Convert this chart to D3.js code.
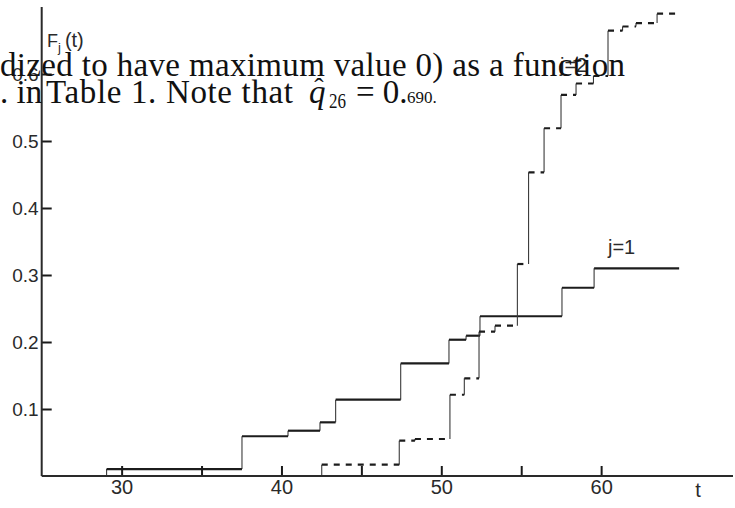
<!DOCTYPE html>
<html>
<head>
    <title></title>
    <script src="https://d3js.org/d3.v7.min.js"></script>
    <style>
        body { margin: 0; background: #fff; }
    </style>
</head>
<body>

    <svg id="chart" width="735" height="508"></svg>

    <script>

    // step estimates F_j(t)
    var j1Times  = [29.06, 37.53, 40.41, 42.41, 43.39, 47.46, 50.48, 51.55, 52.42, 57.55, 59.56];
    var j1Values = [0.0104, 0.0593, 0.0676, 0.0801, 0.1139, 0.168, 0.2034, 0.2094, 0.2384, 0.281, 0.310];
    var j1End = 64.88;

    var j2Times  = [42.52, 47.37, 48.35, 50.54, 51.44, 52.36, 53.36, 54.76, 55.46, 56.43,
                    57.49, 58.43, 59.52, 60.43, 61.34, 62.18, 63.5];
    var j2Values = [0.0169, 0.0527, 0.0552, 0.1213, 0.1458, 0.2154, 0.2243, 0.3164, 0.4533, 0.519,
                    0.5687, 0.5858, 0.597, 0.6646, 0.6709, 0.676, 0.690];
    var j2End = 64.75;

    var xTicks = [30, 35, 40, 45, 50, 55, 60];
    var xTickLabels = ["30", "", "40", "", "50", "", "60"];
    var yTicks = [0.1, 0.2, 0.3, 0.4, 0.5, 0.6];

    var xSc = d3.scaleLinear().domain([25, 68.25]).range([41.7, 733]);
    var ySc = d3.scaleLinear().domain([0, 0.7]).range([476, 7]);

    var svg = d3.select("#chart");
    var sans = "Liberation Sans, Arial, sans-serif";
    var serif = "Liberation Serif, Times New Roman, serif";

    // turn a step function into horizontal and vertical pieces
    function pieces(ts, vs, tEnd) {
        var h = [], v = [];
        ts.forEach(function (t, i) {
            var prev = i == 0 ? 0 : vs[i - 1];
            var next = i < ts.length - 1 ? ts[i + 1] : tEnd;
            v.push([t, prev, vs[i]]);
            h.push([t, next, vs[i]]);
        });
        return { h: h, v: v };
    }

    function drawSteps(p, dash) {
        var g = svg.append("g");
        g.selectAll("line.v").data(p.v).enter().append("line")
            .attr("x1", d => xSc(d[0])).attr("x2", d => xSc(d[0]))
            .attr("y1", d => ySc(d[1])).attr("y2", d => ySc(d[2]))
            .attr("stroke", "#3a3a3a").attr("stroke-width", 1.1);
        g.selectAll("line.h").data(p.h).enter().append("line")
            .attr("x1", d => xSc(d[0])).attr("x2", d => xSc(d[1]))
            .attr("y1", d => ySc(d[2])).attr("y2", d => ySc(d[2]))
            .attr("stroke", "#1c1c1c").attr("stroke-width", 2.2)
            .attr("stroke-dasharray", dash);
    }

    drawSteps(pieces(j1Times, j1Values, j1End), null);
    drawSteps(pieces(j2Times, j2Values, j2End), "6,6");

    // axes, ticks pointing inward
    var xAxis = d3.axisBottom(xSc).tickValues(xTicks).tickSize(-10).tickPadding(4)
        .tickFormat((d, i) => xTickLabels[i]);
    var gx = svg.append("g").attr("transform", "translate(0," + ySc(0) + ")").call(xAxis);
    gx.select(".domain").remove();
    gx.append("line").attr("x1", 41.7).attr("x2", 733).attr("y1", 0).attr("y2", 0)
        .attr("stroke", "#2a2a2a").attr("stroke-width", 2);
    gx.selectAll(".tick line").attr("stroke", "#1a1a1a").attr("stroke-width", 2);
    gx.selectAll(".tick text").attr("font-family", sans)
        .attr("font-size", 20).attr("fill", "#2a2a2a");

    var yAxis = d3.axisLeft(ySc).tickValues(yTicks).tickSize(-10).tickPadding(3)
        .tickFormat(d3.format(".1f"));
    var gy = svg.append("g").attr("transform", "translate(41.7,0)").call(yAxis);
    gy.select(".domain").remove();
    gy.append("line").attr("x1", 0).attr("x2", 0).attr("y1", ySc(0)).attr("y2", 7)
        .attr("stroke", "#2a2a2a").attr("stroke-width", 2);
    gy.selectAll(".tick line").attr("stroke", "#1a1a1a").attr("stroke-width", 2);
    gy.selectAll(".tick text").attr("font-family", sans)
        .attr("font-size", 19).attr("fill", "#2a2a2a");

    // axis titles and series labels
    var fl = svg.append("text").attr("x", 47).attr("y", 47)
        .attr("font-family", sans).attr("font-size", 18).attr("fill", "#2a2a2a");
    fl.append("tspan").text("F");
    fl.append("tspan").attr("dy", 5).attr("font-size", 13).text("j");
    fl.append("tspan").attr("dy", -5).attr("dx", 4).attr("font-size", 20).text("(t)");

    svg.append("text").attr("x", 698).attr("y", 497).attr("text-anchor", "middle")
        .attr("font-family", sans).attr("font-size", 20).attr("fill", "#2a2a2a").text("t");

    svg.append("text").attr("x", 608).attr("y", 254)
        .attr("font-family", sans).attr("font-size", 20).attr("fill", "#2a2a2a").text("j=1");
    svg.append("text").attr("x", 560).attr("y", 72)
        .attr("font-family", sans).attr("font-size", 20).attr("fill", "#2a2a2a").text("j=2");

    // text from the page that overlaps the figure
    svg.append("text").attr("x", 0).attr("y", 76).attr("font-family", serif)
        .attr("font-size", 33).attr("fill", "#111")
        .attr("textLength", 625).attr("lengthAdjust", "spacing")
        .text("dized to have maximum value 0) as a function");

    svg.append("text").attr("x", 0).attr("y", 103).attr("font-family", serif)
        .attr("font-size", 33).attr("fill", "#111").text(". in");
    svg.append("text").attr("x", 46).attr("y", 103).attr("font-family", serif)
        .attr("font-size", 33).attr("fill", "#111")
        .attr("textLength", 247).attr("lengthAdjust", "spacing")
        .text("Table 1. Note that");
    svg.append("text").attr("x", 309).attr("y", 103).attr("font-family", serif)
        .attr("font-style", "italic").attr("font-size", 33).attr("fill", "#111").text("q");
    svg.append("text").attr("x", 319).attr("y", 97).attr("text-anchor", "middle")
        .attr("font-family", serif).attr("font-size", 28).attr("fill", "#111").text("\u02C6");
    svg.append("text").attr("x", 329).attr("y", 108).attr("font-family", serif)
        .attr("font-size", 21).attr("fill", "#111")
        .attr("textLength", 17).attr("lengthAdjust", "spacingAndGlyphs").text("26");
    svg.append("text").attr("x", 356).attr("y", 103).attr("font-family", serif)
        .attr("font-size", 33).attr("fill", "#111").text("= 0.");
    svg.append("text").attr("x", 407).attr("y", 103).attr("font-family", serif)
        .attr("font-size", 17).attr("fill", "#111").text("690.");

    </script>

</body></html>
